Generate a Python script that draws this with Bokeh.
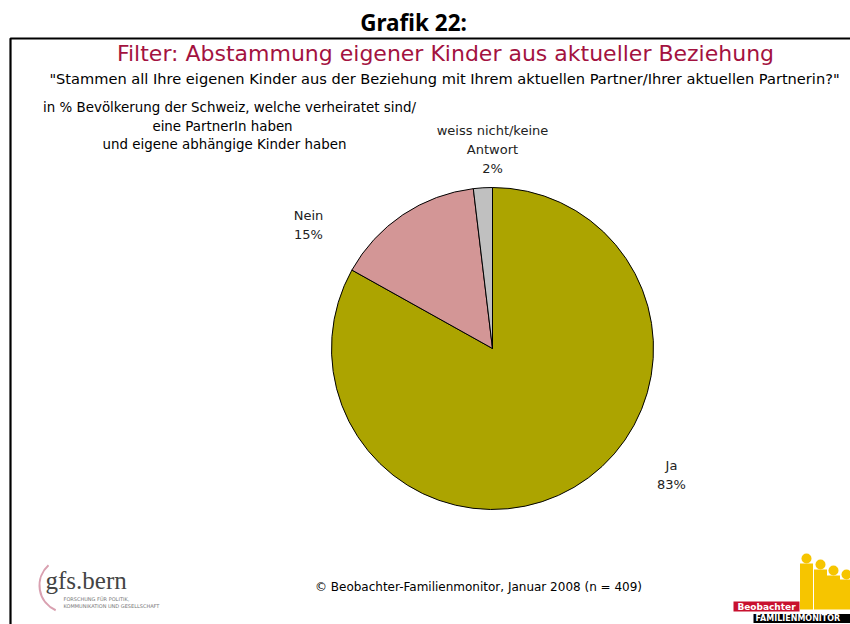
import numpy as np
from bokeh.plotting import figure
from bokeh.models import Range1d
from bokeh.core.properties import value
from bokeh.embed import file_html
from bokeh.resources import INLINE

# ---- data ----
categories = ["Ja", "Nein", "weiss nicht/keine Antwort"]
shares = [83.1, 15.0, 1.9]
share_labels = ["83%", "15%", "2%"]
label_lines = [["Ja"], ["Nein"], ["weiss nicht/keine", "Antwort"]]
colors = ["#ACA400", "#D39696", "#C0C0C0"]

W, H = 850, 624


def X(sx):
    return sx


def Y(sy):
    return H - sy


p = figure(width=W, height=H, x_range=Range1d(0, W), y_range=Range1d(0, H),
           output_backend="svg", toolbar_location=None, min_border=0,
           x_axis_location=None, y_axis_location=None)
p.grid.visible = False
p.outline_line_color = None
p.background_fill_color = "white"

# frame
p.line([X(10), X(10), X(900)], [Y(700), Y(38), Y(38)], line_color="black", line_width=2.2)

# header texts
p.text([X(413)], [Y(22)], text=["Grafik 22:"], text_font=value("Noto Sans"), text_font_style="bold",
       text_font_size="22.5px", text_align="center", text_baseline="middle", text_color="black")
p.text([X(445)], [Y(53)], text=["Filter: Abstammung eigener Kinder aus aktueller Beziehung"],
       text_font=value("DejaVu Sans"), text_font_size="22px", text_align="center",
       text_baseline="middle", text_color="#A3123F")
p.text([X(444)], [Y(78)],
       text=['"Stammen all Ihre eigenen Kinder aus der Beziehung mit Ihrem aktuellen Partner/Ihrer aktuellen Partnerin?"'],
       text_font=value("DejaVu Sans"), text_font_size="14.6px", text_align="center",
       text_baseline="middle", text_color="black")
note = ["in % Bevölkerung der Schweiz, welche verheiratet sind/",
        "eine PartnerIn haben",
        "und eigene abhängige Kinder haben"]
p.text([X(229), X(222), X(224)], [Y(107), Y(126), Y(144)], text=note,
       text_font=value("DejaVu Sans"), text_font_size="13.4px", text_align="center",
       text_baseline="middle", text_color="black")

# pie
frac = np.array(shares) / sum(shares)
cum = np.concatenate([[0.0], np.cumsum(frac)])
start = np.pi / 2 - cum[:-1] * 2 * np.pi
end = np.pi / 2 - cum[1:] * 2 * np.pi
p.wedge(x=X(492), y=Y(348), radius=161, radius_units="screen",
        start_angle=list(start), end_angle=list(end), direction="clock",
        fill_color=colors, line_color="black", line_width=1)

# slice labels
lab_pos = [(671, 465), (308, 215), (492, 130)]
lx, ly, lt = [], [], []
for (sx, sy), lines, pct in zip(lab_pos, label_lines, share_labels):
    for k, t in enumerate(lines + [pct]):
        lx.append(X(sx))
        ly.append(Y(sy + 19 * k))
        lt.append(t)
p.text(lx, ly, text=lt, text_font=value("DejaVu Sans"), text_font_size="13px",
       text_align="center", text_baseline="middle", text_color="#222222")

# footer
p.text([X(478)], [Y(586)], text=["© Beobachter-Familienmonitor, Januar 2008 (n = 409)"],
       text_font=value("DejaVu Sans"), text_font_size="12px", text_align="center",
       text_baseline="middle", text_color="black")

# gfs.bern logo
p.arc(x=[X(66)], y=[Y(585)], radius=27, radius_units="screen", start_angle=2.3, end_angle=4.3,
      line_color="#D9A0B0", line_width=2)
p.text([X(45)], [Y(580)], text=["gfs.bern"], text_font=value("Liberation Serif"),
       text_font_size="25px", text_align="left", text_baseline="middle", text_color="#444444")
p.text([X(63), X(63)], [Y(598), Y(605)], text=["FORSCHUNG FÜR POLITIK,", "KOMMUNIKATION UND GESELLSCHAFT"],
       text_font=value("DejaVu Sans"), text_font_size="5px", text_align="left",
       text_baseline="middle", text_color="#777777")

# Beobachter logo (figures)
heads_x = [806, 820, 833, 846]
heads_y = [558, 564, 570, 574]
body_h = [46, 40, 34, 30]
p.circle(x=[X(v) for v in heads_x], y=[Y(v) for v in heads_y], radius=5, radius_units="screen",
         fill_color="#F6C500", line_color=None)
p.rect(x=[X(v) for v in heads_x], y=[Y(hy + 5 + bh / 2) for hy, bh in zip(heads_y, body_h)],
       width=13, height=body_h, width_units="screen", height_units="screen",
       fill_color="#F6C500", line_color=None)
p.rect(x=[X(766)], y=[Y(606)], width=66, height=10, width_units="screen", height_units="screen",
       fill_color="#C8102E", line_color=None)
p.text([X(766)], [Y(606)], text=["Beobachter"], text_font=value("DejaVu Sans"), text_font_style="bold",
       text_font_size="9px", text_align="center", text_baseline="middle", text_color="white")
p.rect(x=[X(803)], y=[Y(618)], width=100, height=9, width_units="screen", height_units="screen",
       fill_color="black", line_color=None)
p.text([X(755)], [Y(618)], text=["FAMILIENMONITOR"], text_font=value("DejaVu Sans"), text_font_style="bold",
       text_font_size="8px", text_align="left", text_baseline="middle", text_color="white")

open("out.html", "w").write(file_html(p, INLINE))
